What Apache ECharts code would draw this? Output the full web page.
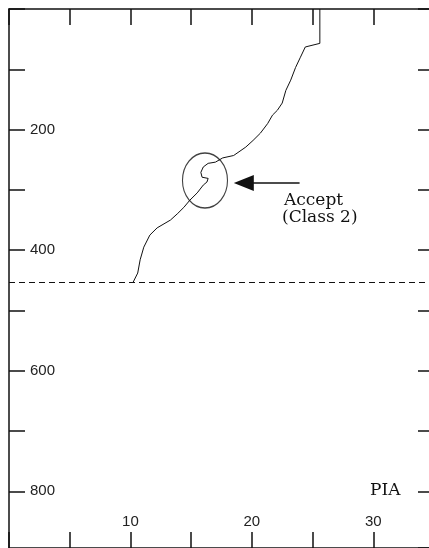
<!DOCTYPE html>
<html>
<head>
<meta charset="utf-8">
<script src="https://cdn.jsdelivr.net/npm/echarts@6/dist/echarts.min.js"></script>
<style>
html,body{margin:0;padding:0;background:#fff;}
#chart{width:429px;height:548px;}
</style>
</head>
<body>
<div id="chart"></div>
<script>
// Profile curve: [PIA, depth]
var curveX = [25.6, 25.6, 24.4, 24.0, 23.6, 23.2, 22.8, 22.5, 22.1, 21.7, 21.3, 20.7, 20.1, 19.5, 18.5, 17.6, 17.0, 16.4, 16.0, 15.8, 15.9, 16.4, 16.3, 16.0, 15.5, 14.9, 14.4, 13.9, 13.3, 12.2, 11.6, 11.1, 10.8, 10.6, 10.2];
var curveY = [0, 57, 63, 80, 97, 118, 135, 156, 168, 176, 190, 206, 218, 229, 243, 247, 254, 256, 262, 271, 279, 281, 287, 292, 305, 317, 329, 339, 350, 363, 375, 395, 416, 438, 454];
var limitDepth = [454];
var circleCenter = [16.14, 284.5];
var arrowFrom = [23.93, 288.6];
var arrowTo = [19.34, 288.6];
var xLabels = [10, 20, 30];
var yLabels = [200, 400, 600, 800];
var annotText = ['Accept', '(Class 2)'];
var axisName = 'PIA';

var curveData = curveX.map(function (x, i) { return [x, curveY[i]]; });

var axisLineStyle = { color: '#111', width: 1.5 };
var labelFont = 'Liberation Sans, Arial, sans-serif';
var noteFont = '17px "DejaVu Serif", serif';
function xAxisCfg(pos, showLabel) {
  return {
    type: 'value', position: pos, min: 0, max: 35, interval: 5,
    axisLine: { show: true, onZero: false, lineStyle: axisLineStyle },
    axisTick: { show: true, inside: true, length: 16, lineStyle: axisLineStyle },
    axisLabel: {
      show: showLabel, inside: true, margin: 19,
      color: '#222', fontFamily: labelFont, fontSize: 15,
      formatter: function (v) { return xLabels.indexOf(v) >= 0 ? String(v) : ''; }
    },
    splitLine: { show: false }
  };
}
function yAxisCfg(pos, showLabel) {
  return {
    type: 'value', position: pos, inverse: true, min: 0, max: 894, interval: 100,
    axisLine: { show: true, onZero: false, lineStyle: axisLineStyle },
    axisTick: { show: true, inside: true, length: 16, lineStyle: axisLineStyle },
    axisLabel: {
      show: showLabel, inside: true, margin: 21, showMaxLabel: false,
      color: '#222', fontFamily: labelFont, fontSize: 15,
      formatter: function (v) { return yLabels.indexOf(v) >= 0 ? String(v) : ''; }
    },
    splitLine: { show: false }
  };
}

var chart = echarts.init(document.getElementById('chart'), null, { renderer: 'canvas' });
chart.setOption({
  animation: false,
  backgroundColor: '#fff',
  grid: { left: 9, top: 9, width: 425, height: 539, containLabel: false, outerBoundsMode: 'none' },
  xAxis: [xAxisCfg('bottom', true), xAxisCfg('top', false)],
  yAxis: [yAxisCfg('left', true), yAxisCfg('right', false)],
  series: [
    {
      type: 'line', data: curveData, symbol: 'none', smooth: false,
      lineStyle: { color: '#111', width: 1 },
      markLine: {
        silent: true, symbol: 'none', label: { show: false },
        lineStyle: { color: '#111', width: 1, type: [6, 4] },
        data: [{ yAxis: limitDepth[0] }]
      }
    },
    {
      type: 'scatter', data: [circleCenter], symbol: 'circle', symbolSize: [45, 55],
      itemStyle: { color: 'rgba(0,0,0,0)', borderColor: '#111', borderWidth: 1.2 },
      markLine: {
        silent: true, symbol: ['none', 'triangle'], symbolSize: [16, 20],
        label: { show: false },
        lineStyle: { color: '#111', width: 1.5, type: 'solid' },
        itemStyle: { color: '#111' },
        data: [[{ coord: arrowFrom }, { coord: arrowTo }]]
      }
    }
  ],
  graphic: [
    { type: 'text', left: 284, top: 192, style: { text: annotText[0], font: noteFont, fill: '#111' } },
    { type: 'text', left: 282, top: 209, style: { text: annotText[1], font: noteFont, fill: '#111' } },
    { type: 'text', left: 370, top: 482, style: { text: axisName, font: noteFont, fill: '#111' } }
  ]
});
</script>
</body>
</html>
